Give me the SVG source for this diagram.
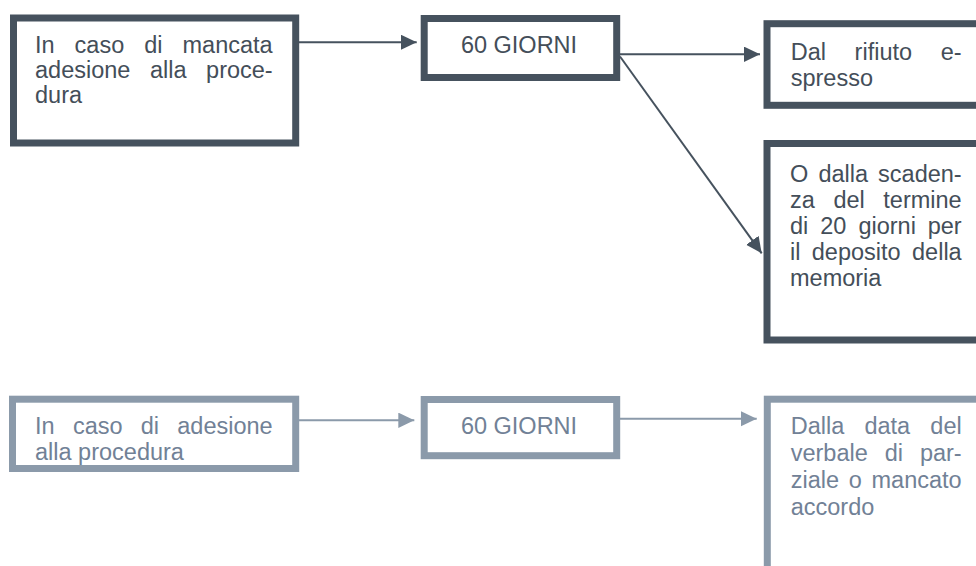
<svg xmlns="http://www.w3.org/2000/svg" width="976" height="566" viewBox="0 0 976 566">
<defs>
<marker id="ad" markerUnits="userSpaceOnUse" markerWidth="17" markerHeight="16" refX="16" refY="7.7" orient="auto"><path d="M0,0 L16,7.7 L0,15.4 z" fill="#46525e"/></marker>
<marker id="al" markerUnits="userSpaceOnUse" markerWidth="17" markerHeight="16" refX="16" refY="7.7" orient="auto"><path d="M0,0 L16,7.7 L0,15.4 z" fill="#8b9aaa"/></marker>
</defs>
<style>
.bd{fill:#fff;stroke:#46525e;stroke-width:7}
.bl{fill:#fff;stroke:#8b9aaa;stroke-width:7}
text{font-family:"Liberation Sans",Arial,sans-serif;font-size:23.5px}
.td{fill:#444e59}
.tl{fill:#718196}
.e{text-anchor:end}
.m{text-anchor:middle}
.cd{stroke:#46525e;stroke-width:2;fill:none;marker-end:url(#ad)}
.cl{stroke:#8b9aaa;stroke-width:2;fill:none;marker-end:url(#al)}
</style>
<rect width="976" height="566" fill="#fff"/>
<g id="connectors">
<line class="cd" x1="299" y1="42.3" x2="416.7" y2="42.3"/>
<line class="cd" x1="620" y1="54.3" x2="760" y2="54.3"/>
<line class="cd" x1="620" y1="56.5" x2="761.7" y2="253.3"/>
<line class="cl" x1="299" y1="420.3" x2="414.3" y2="420.3"/>
<line class="cl" x1="620" y1="418.8" x2="756.7" y2="418.8"/>
</g>
<g id="n1">
<rect class="bd" x="13.5" y="18" width="282.2" height="125"/>
<text class="td" x="35" y="53.3">In</text><text class="td" x="74.6" y="53.3">caso</text><text class="td" x="144.2" y="53.3">di</text>
<text class="td e" x="272.7" y="53.3">mancata</text>
<text class="td" x="35" y="78.3">adesione</text><text class="td" x="150" y="78.3">alla</text>
<text class="td e" x="272.7" y="78.3">proce-</text>
<text class="td" x="35" y="103.3">dura</text>
</g>
<g id="n2">
<rect class="bd" x="424.2" y="18.5" width="192.5" height="59"/>
<text class="td m" x="519" y="53">60 GIORNI</text>
</g>
<g id="n3">
<rect class="bd" x="767" y="23.7" width="230" height="81.6"/>
<text class="td" x="790.7" y="60">Dal</text><text class="td" x="854.6" y="60">rifiuto</text>
<text class="td e" x="961.7" y="60">e-</text>
<text class="td" x="790.7" y="86">spresso</text>
</g>
<g id="n4">
<rect class="bd" x="767" y="143.5" width="230" height="196.5"/>
<text class="td" x="790" y="182">O</text><text class="td" x="818.4" y="182">dalla</text><text class="td e" x="961.7" y="182">scaden-</text>
<text class="td" x="790" y="208">za</text><text class="td" x="833.4" y="208">del</text><text class="td e" x="961.7" y="208">termine</text>
<text class="td" x="790" y="234">di</text><text class="td" x="820.3" y="234">20</text><text class="td" x="858.4" y="234">giorni</text><text class="td e" x="961.7" y="234">per</text>
<text class="td" x="790" y="260">il</text><text class="td" x="811.8" y="260">deposito</text><text class="td e" x="961.7" y="260">della</text>
<text class="td" x="790" y="286">memoria</text>
</g>
<g id="n5">
<rect class="bl" x="12.5" y="399.2" width="283.2" height="69.3"/>
<text class="tl" x="35" y="434">In</text><text class="tl" x="72.9" y="434">caso</text><text class="tl" x="140.8" y="434">di</text><text class="tl e" x="272.7" y="434">adesione</text>
<text class="tl" x="35" y="460">alla procedura</text>
</g>
<g id="n6">
<rect class="bl" x="424.2" y="399.5" width="192.5" height="56.2"/>
<text class="tl m" x="519" y="434">60 GIORNI</text>
</g>
<g id="n7">
<rect class="bl" x="767.3" y="399.2" width="230" height="180"/>
<text class="tl" x="790.7" y="434">Dalla</text><text class="tl" x="864.4" y="434">data</text><text class="tl e" x="961.7" y="434">del</text>
<text class="tl" x="790.7" y="461">verbale</text><text class="tl" x="884.7" y="461">di</text><text class="tl e" x="961.7" y="461">par-</text>
<text class="tl" x="790.7" y="488">ziale</text><text class="tl" x="848.75" y="488">o</text><text class="tl e" x="961.7" y="488">mancato</text>
<text class="tl" x="790.7" y="515">accordo</text>
</g>
</svg>
